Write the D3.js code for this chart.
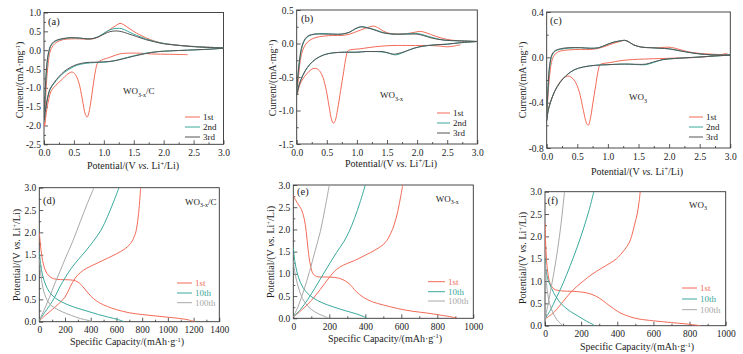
<!DOCTYPE html>
<html>
<head>
<meta charset="utf-8">
<script src="https://cdn.jsdelivr.net/npm/d3@7"></script>
<style>
body { margin: 0; background: #fff; }
svg, text, tspan { font-family: "Liberation Serif", "Times New Roman", Times, serif; }
</style>
</head>
<body>
<svg id="fig" width="743" height="354" font-family="Liberation Serif, Times New Roman, serif"></svg>
<script>
// ---- CV curves, [potential V, current mA/mg], in sweep order ----
const cvA1st = [[2.40,-0.12],[2.1,-0.11],[1.8,-0.10],[1.6,-0.08],[1.4,-0.08],[1.3,-0.09],[1.2,-0.13],[1.1,-0.19],[1.0,-0.24],[0.93,-0.29],[0.89,-0.36],[0.86,-0.55],[0.82,-0.95],[0.78,-1.40],[0.74,-1.72],[0.72,-1.78],[0.69,-1.70],[0.64,-1.30],[0.58,-0.85],[0.52,-0.64],[0.47,-0.58],[0.40,-0.63],[0.30,-0.78],[0.20,-0.93],[0.12,-1.08],[0.08,-1.30],[0.04,-1.65],[0.01,-2.02],
  [0.02,-1.6],[0.04,-0.9],[0.07,-0.35],[0.10,-0.05],[0.15,0.12],[0.22,0.22],[0.32,0.28],[0.45,0.30],[0.6,0.30],[0.72,0.29],[0.82,0.30],[0.92,0.36],[1.02,0.46],[1.12,0.57],[1.2,0.65],[1.27,0.71],[1.33,0.68],[1.42,0.58],[1.55,0.45],[1.7,0.33],[1.85,0.24],[2.0,0.18],[2.3,0.12],[2.6,0.09],[3.0,0.06]];
const cvA2nd = [[3.0,0.05],[2.7,0.02],[2.4,0.0],[2.1,-0.02],[1.9,-0.04],[1.7,-0.08],[1.5,-0.15],[1.3,-0.23],[1.15,-0.29],[1.0,-0.32],[0.85,-0.33],[0.7,-0.35],[0.55,-0.40],[0.45,-0.48],[0.35,-0.58],[0.25,-0.72],[0.17,-0.88],[0.1,-1.05],[0.05,-1.35],[0.02,-1.65],[0.0,-1.9],
  [0.02,-1.2],[0.04,-0.6],[0.07,-0.15],[0.11,0.1],[0.16,0.2],[0.22,0.26],[0.32,0.30],[0.45,0.33],[0.6,0.32],[0.72,0.30],[0.82,0.31],[0.92,0.37],[1.02,0.47],[1.12,0.55],[1.22,0.58],[1.3,0.57],[1.4,0.50],[1.55,0.39],[1.7,0.30],[1.85,0.23],[2.0,0.18],[2.3,0.12],[2.6,0.09],[3.0,0.06]];
const cvA3rd = [[3.0,0.05],[2.7,0.02],[2.4,0.0],[2.1,-0.02],[1.9,-0.04],[1.7,-0.09],[1.5,-0.16],[1.3,-0.24],[1.15,-0.29],[1.0,-0.31],[0.85,-0.32],[0.7,-0.33],[0.55,-0.38],[0.45,-0.45],[0.35,-0.55],[0.25,-0.70],[0.17,-0.86],[0.1,-1.03],[0.05,-1.35],[0.02,-1.65],[0.0,-1.85],
  [0.02,-1.1],[0.04,-0.5],[0.07,-0.1],[0.11,0.12],[0.16,0.22],[0.22,0.27],[0.32,0.31],[0.45,0.33],[0.6,0.32],[0.72,0.30],[0.82,0.31],[0.92,0.36],[1.02,0.44],[1.1,0.49],[1.2,0.51],[1.3,0.49],[1.4,0.44],[1.55,0.36],[1.7,0.28],[1.85,0.22],[2.0,0.17],[2.3,0.12],[2.6,0.08],[3.0,0.06]];

const cvB1st = [[2.72,-0.02],[2.6,-0.04],[2.5,-0.05],[2.4,-0.04],[2.2,-0.03],[1.9,-0.03],[1.6,-0.03],[1.4,-0.04],[1.2,-0.06],[1.05,-0.08],[0.92,-0.09],[0.85,-0.11],[0.82,-0.2],[0.78,-0.42],[0.73,-0.7],[0.68,-0.98],[0.64,-1.15],[0.61,-1.19],[0.58,-1.14],[0.54,-0.95],[0.48,-0.65],[0.42,-0.47],[0.36,-0.39],[0.3,-0.37],[0.24,-0.39],[0.17,-0.45],[0.1,-0.53],[0.05,-0.62],[0.01,-0.75],
  [0.03,-0.5],[0.06,-0.25],[0.1,-0.1],[0.15,-0.01],[0.22,0.05],[0.32,0.09],[0.45,0.11],[0.6,0.12],[0.75,0.12],[0.88,0.14],[1.0,0.18],[1.12,0.22],[1.22,0.25],[1.28,0.26],[1.36,0.23],[1.45,0.18],[1.55,0.15],[1.7,0.14],[1.85,0.15],[1.97,0.17],[2.06,0.18],[2.15,0.16],[2.3,0.11],[2.5,0.06],[2.7,0.04],[3.0,0.03]];
const cvB2nd = [[3.0,0.03],[2.7,0.01],[2.5,-0.01],[2.3,-0.02],[2.1,-0.04],[1.95,-0.07],[1.8,-0.12],[1.7,-0.16],[1.63,-0.17],[1.55,-0.15],[1.45,-0.13],[1.3,-0.12],[1.15,-0.12],[1.0,-0.13],[0.8,-0.13],[0.6,-0.14],[0.45,-0.17],[0.32,-0.23],[0.22,-0.31],[0.14,-0.41],[0.07,-0.54],[0.03,-0.65],[0.0,-0.75],
  [0.02,-0.5],[0.05,-0.25],[0.09,-0.05],[0.14,0.06],[0.2,0.11],[0.3,0.14],[0.45,0.15],[0.6,0.14],[0.75,0.14],[0.88,0.17],[0.98,0.22],[1.08,0.25],[1.16,0.24],[1.25,0.22],[1.35,0.19],[1.45,0.16],[1.6,0.14],[1.75,0.14],[1.9,0.15],[2.0,0.15],[2.1,0.13],[2.25,0.09],[2.45,0.05],[2.7,0.04],[3.0,0.03]];
const cvB3rd = [[3.0,0.03],[2.7,0.01],[2.5,-0.01],[2.3,-0.02],[2.1,-0.04],[1.95,-0.07],[1.8,-0.12],[1.68,-0.15],[1.6,-0.16],[1.52,-0.14],[1.42,-0.12],[1.3,-0.12],[1.15,-0.12],[1.0,-0.13],[0.8,-0.13],[0.6,-0.14],[0.45,-0.17],[0.32,-0.23],[0.22,-0.31],[0.14,-0.41],[0.07,-0.54],[0.03,-0.65],[0.0,-0.77],
  [0.02,-0.48],[0.05,-0.22],[0.09,-0.03],[0.14,0.07],[0.2,0.12],[0.3,0.14],[0.45,0.14],[0.6,0.14],[0.75,0.14],[0.88,0.17],[0.97,0.22],[1.06,0.25],[1.14,0.24],[1.23,0.22],[1.33,0.19],[1.43,0.16],[1.6,0.14],[1.75,0.14],[1.9,0.14],[2.0,0.14],[2.1,0.12],[2.25,0.08],[2.45,0.05],[2.7,0.04],[3.0,0.03]];

const cvC1st = [[2.95,0.035],[2.8,0.02],[2.5,0.0],[2.2,-0.005],[1.9,-0.01],[1.6,-0.015],[1.4,-0.02],[1.2,-0.03],[1.05,-0.045],[0.92,-0.055],[0.87,-0.065],[0.84,-0.12],[0.8,-0.25],[0.75,-0.42],[0.71,-0.55],[0.68,-0.6],[0.65,-0.58],[0.6,-0.47],[0.53,-0.3],[0.46,-0.21],[0.4,-0.175],[0.35,-0.165],[0.28,-0.18],[0.2,-0.23],[0.13,-0.3],[0.07,-0.38],[0.03,-0.45],[0.0,-0.55],
  [0.02,-0.35],[0.05,-0.15],[0.09,-0.02],[0.14,0.03],[0.22,0.055],[0.35,0.065],[0.55,0.07],[0.72,0.07],[0.85,0.08],[0.97,0.1],[1.1,0.125],[1.2,0.14],[1.27,0.15],[1.33,0.14],[1.42,0.11],[1.55,0.09],[1.7,0.085],[1.85,0.085],[1.98,0.09],[2.1,0.08],[2.3,0.05],[2.5,0.035],[2.8,0.025],[3.0,0.02]];
const cvC2nd = [[3.0,0.02],[2.7,0.01],[2.4,0.0],[2.1,-0.01],[1.9,-0.02],[1.75,-0.045],[1.62,-0.065],[1.5,-0.065],[1.35,-0.06],[1.2,-0.06],[1.0,-0.065],[0.8,-0.07],[0.6,-0.085],[0.45,-0.11],[0.32,-0.16],[0.22,-0.22],[0.13,-0.3],[0.06,-0.4],[0.02,-0.48],[0.0,-0.55],
  [0.02,-0.3],[0.05,-0.08],[0.09,0.02],[0.14,0.055],[0.22,0.07],[0.35,0.08],[0.55,0.085],[0.72,0.08],[0.85,0.085],[0.97,0.11],[1.1,0.135],[1.2,0.145],[1.27,0.15],[1.33,0.14],[1.42,0.11],[1.55,0.09],[1.7,0.085],[1.85,0.08],[2.0,0.075],[2.2,0.055],[2.5,0.03],[2.8,0.02],[3.0,0.02]];
const cvC3rd = [[3.0,0.02],[2.7,0.01],[2.4,0.0],[2.1,-0.01],[1.9,-0.02],[1.75,-0.04],[1.62,-0.06],[1.5,-0.062],[1.35,-0.06],[1.2,-0.06],[1.0,-0.065],[0.8,-0.07],[0.6,-0.085],[0.45,-0.11],[0.32,-0.16],[0.22,-0.22],[0.13,-0.3],[0.06,-0.4],[0.02,-0.48],[0.0,-0.56],
  [0.02,-0.28],[0.05,-0.06],[0.09,0.03],[0.14,0.06],[0.22,0.075],[0.35,0.085],[0.55,0.085],[0.72,0.08],[0.85,0.085],[0.97,0.11],[1.1,0.135],[1.2,0.145],[1.27,0.15],[1.33,0.14],[1.42,0.11],[1.55,0.09],[1.7,0.085],[1.85,0.08],[2.0,0.075],[2.2,0.055],[2.5,0.03],[2.8,0.02],[3.0,0.02]];

// ---- discharge / charge curves, [capacity mAh/g, potential V]; each = [discharge, charge] ----
const gcdD1st = [
  [[0,2.0],[8,1.75],[18,1.5],[35,1.25],[60,1.08],[90,0.99],[130,0.95],[200,0.94],[260,0.93],[300,0.89],[340,0.78],[380,0.64],[420,0.52],[470,0.42],[530,0.34],[600,0.27],[700,0.2],[800,0.16],[900,0.13],[1000,0.1],[1100,0.07],[1160,0.04],[1210,0.0]],
  [[0,0.02],[50,0.15],[100,0.27],[150,0.4],[200,0.55],[240,0.78],[280,0.98],[320,1.1],[370,1.2],[450,1.31],[530,1.42],[600,1.52],[660,1.62],[710,1.75],[745,1.95],[765,2.25],[778,2.6],[788,3.0]]];
const gcdD10th = [
  [[0,1.57],[10,1.3],[25,1.05],[50,0.82],[80,0.66],[120,0.54],[170,0.45],[230,0.37],[300,0.3],[380,0.23],[460,0.16],[540,0.1],[610,0.05],[660,0.0]],
  [[0,0.03],[40,0.2],[80,0.36],[120,0.55],[160,0.78],[200,0.98],[250,1.2],[300,1.38],[360,1.58],[420,1.8],[480,2.05],[530,2.35],[580,2.7],[620,3.0]]];
const gcdD100th = [
  [[0,1.4],[10,1.1],[25,0.8],[50,0.55],[80,0.4],[120,0.31],[180,0.22],[250,0.14],[320,0.07],[380,0.03],[415,0.0]],
  [[0,0.03],[40,0.28],[80,0.55],[120,0.85],[160,1.12],[200,1.4],[260,1.8],[320,2.25],[370,2.62],[425,3.0]]];

const gcdE1st = [
  [[0,2.76],[10,2.68],[25,2.58],[45,2.45],[60,2.25],[72,1.95],[82,1.55],[95,1.2],[110,1.0],[130,0.94],[170,0.93],[230,0.92],[270,0.88],[310,0.78],[350,0.6],[390,0.47],[440,0.37],[500,0.3],[580,0.22],[660,0.16],[740,0.12],[820,0.07],[880,0.03],[910,0.0]],
  [[0,0.03],[50,0.2],[100,0.4],[150,0.65],[200,0.92],[240,1.1],[280,1.2],[340,1.3],[400,1.42],[460,1.55],[510,1.7],[540,1.9],[560,2.1],[580,2.4],[597,2.75],[608,3.0]]];
const gcdE10th = [
  [[0,1.6],[8,1.3],[20,1.05],[40,0.8],[70,0.6],[110,0.46],[160,0.35],[220,0.26],[290,0.17],[350,0.1],[390,0.04],[410,0.0]],
  [[0,0.03],[40,0.2],[80,0.42],[120,0.68],[160,0.95],[200,1.22],[240,1.48],[280,1.72],[310,1.95],[340,2.25],[370,2.6],[400,3.0]]];
const gcdE100th = [
  [[0,1.3],[8,1.05],[20,0.82],[40,0.55],[65,0.35],[100,0.2],[140,0.1],[175,0.04],[200,0.0]],
  [[0,0.03],[30,0.3],[60,0.65],[90,1.05],[120,1.5],[150,1.95],[175,2.45],[200,3.0]]];

const gcdF1st = [
  [[0,2.3],[3,1.9],[8,1.5],[15,1.2],[28,0.95],[50,0.82],[90,0.78],[150,0.77],[210,0.75],[260,0.7],[300,0.62],[340,0.5],[380,0.38],[420,0.28],[470,0.2],[520,0.15],[600,0.11],[700,0.07],[780,0.04],[860,0.0]],
  [[0,0.15],[50,0.3],[92,0.5],[150,0.78],[212,1.0],[260,1.15],[310,1.28],[360,1.4],[396,1.5],[440,1.7],[465,1.85],[479,2.0],[495,2.25],[510,2.5],[520,2.75],[527,3.0]]];
const gcdF10th = [
  [[0,1.5],[5,1.25],[15,1.05],[35,0.85],[60,0.65],[95,0.47],[140,0.32],[190,0.2],[230,0.1],[260,0.04],[275,0.0]],
  [[0,0.15],[30,0.35],[60,0.6],[100,0.95],[140,1.35],[180,1.78],[215,2.2],[245,2.6],[270,3.0]]];
const gcdF100th = [
  [[0,1.4],[5,1.1],[12,0.8],[25,0.5],[45,0.28],[65,0.14],[85,0.05],[100,0.0]],
  [[0,0.15],[20,0.55],[40,0.98],[60,1.45],[80,2.0],[95,2.5],[108,3.0]]];

// ---- axis ticks / labels ----
const cvXTicks = [0, 0.5, 1.0, 1.5, 2.0, 2.5, 3.0];
const cvYTicksA = [-2.5, -2.0, -1.5, -1.0, -0.5, 0.0, 0.5, 1.0];
const cvYTicksB = [-1.5, -1.0, -0.5, 0.0, 0.5];
const cvYTicksC = [-0.8, -0.4, 0.0, 0.4];
const capXTicksD = [0, 200, 400, 600, 800, 1000, 1200, 1400];
const capXTicksEF = [0, 200, 400, 600, 800, 1000];
const potYTicks = [0, 0.5, 1.0, 1.5, 2.0, 2.5, 3.0];
const cvNames = ["1st", "2nd", "3rd"];
const gcdNames = ["1st", "10th", "100th"];

const red = "#f26b57", teal = "#3aa89c", dark = "#555555", light = "#a8a8a8";
const serif = "Liberation Serif, Times New Roman, serif";
const svg = d3.select("#fig");
const fmt1 = d => d.toFixed(1);
const fmt0 = d => String(d);

// midpoints between major ticks for minor ticks
const mids = t => t.slice(1).map((d, i) => (d + t[i]) / 2);

let clipId = 0;
const drawPanel = (p) => {
    const g = svg.append("g");
    const x = d3.scaleLinear().domain([p.xTicks[0], p.xTicks[p.xTicks.length - 1]]).range([p.left, p.right]);
    const y = d3.scaleLinear().domain([p.yTicks[0], p.yTicks[p.yTicks.length - 1]]).range([p.bottom, p.top]);

    // axes with inward ticks
    g.append("g").attr("transform", `translate(0,${p.bottom})`)
        .call(d3.axisBottom(x).tickValues(p.xTicks).tickSize(-4).tickPadding(5).tickFormat(p.xFmt));
    g.append("g").attr("transform", `translate(0,${p.bottom})`)
        .call(d3.axisBottom(x).tickValues(mids(p.xTicks)).tickSize(-2).tickFormat(""));
    g.append("g").attr("transform", `translate(${p.left},0)`)
        .call(d3.axisLeft(y).tickValues(p.yTicks).tickSize(-4).tickPadding(3).tickFormat(p.yFmt));
    g.append("g").attr("transform", `translate(${p.left},0)`)
        .call(d3.axisLeft(y).tickValues(mids(p.yTicks)).tickSize(-2).tickFormat(""));
    g.selectAll(".domain").remove();
    g.selectAll("g").attr("font-family", serif);
    g.selectAll(".tick line").attr("stroke", "#333").attr("stroke-width", 0.8);
    g.selectAll(".tick text").attr("font-size", 9.5).attr("fill", "#222");

    g.append("rect")
        .attr("x", p.left).attr("y", p.top)
        .attr("width", p.right - p.left).attr("height", p.bottom - p.top)
        .attr("fill", "none").attr("stroke", "#333").attr("stroke-width", 0.9);

    // curves
    const id = `clip${clipId++}`;
    svg.append("clipPath").attr("id", id).append("rect")
        .attr("x", p.left).attr("y", p.top)
        .attr("width", p.right - p.left).attr("height", p.bottom - p.top);
    const line = d3.line().x(d => x(d[0])).y(d => y(d[1])).curve(d3.curveCatmullRom.alpha(0.5));
    const cg = g.append("g").attr("clip-path", `url(#${id})`);
    p.series.forEach(s => {
        s.paths.forEach(path => {
            cg.append("path")
                .attr("d", line(path))
                .attr("fill", "none")
                .attr("stroke", s.color)
                .attr("stroke-width", 1);
        });
    });

    // legend
    p.series.forEach((s, i) => {
        const ly = p.legendY[i];
        g.append("line")
            .attr("x1", p.legendX[0]).attr("x2", p.legendX[1])
            .attr("y1", ly).attr("y2", ly)
            .attr("stroke", s.color).attr("stroke-width", 1);
        g.append("text")
            .attr("x", p.legendX[1] + 3).attr("y", ly + 3)
            .attr("font-size", 9)
            .attr("fill", p.colorLegend ? s.color : "#222")
            .text(s.name);
    });

    // panel letter
    g.append("text").attr("x", p.letterPos[0]).attr("y", p.letterPos[1])
        .attr("font-size", 10.5).attr("fill", "#222").text(p.letter);

    // material label
    const m = g.append("text").attr("x", p.matPos[0]).attr("y", p.matPos[1])
        .attr("font-size", 9).attr("fill", "#222");
    m.append("tspan").text("WO");
    m.append("tspan").attr("dy", 2.5).attr("font-size", 6).text(p.matSub);
    if (p.matSuffix) m.append("tspan").attr("dy", -2.5).text(p.matSuffix);

    // axis titles
    const xt = g.append("text").attr("x", p.xTitlePos[0]).attr("y", p.xTitlePos[1])
        .attr("text-anchor", "middle").attr("font-size", 10).attr("fill", "#222");
    const yt = g.append("text")
        .attr("transform", `translate(${p.yTitlePos[0]},${p.yTitlePos[1]}) rotate(-90)`)
        .attr("text-anchor", "middle").attr("font-size", 10).attr("fill", "#222");
    p.xTitle(xt);
    p.yTitle(yt);
};

const potentialTitle = (t) => {
    t.append("tspan").text("Potential/(V ");
    t.append("tspan").attr("font-style", "italic").text("vs.");
    t.append("tspan").text(" Li");
    t.append("tspan").attr("dy", -3.5).attr("font-size", 6.5).text("+");
    t.append("tspan").attr("dy", 3.5).text("/Li)");
};
const currentTitle = (t) => {
    t.append("tspan").text("Current/(mA\u00b7mg");
    t.append("tspan").attr("dy", -3.5).attr("font-size", 6.5).text("-1");
    t.append("tspan").attr("dy", 3.5).text(")");
};
const capacityTitle = (t) => {
    t.append("tspan").text("Specific Capacity/(mAh\u00b7g");
    t.append("tspan").attr("dy", -3.5).attr("font-size", 6.5).text("-1");
    t.append("tspan").attr("dy", 3.5).text(")");
};

const cvSeries = (c1, c2, c3) => [
    { name: cvNames[0], color: red, paths: [c1] },
    { name: cvNames[1], color: teal, paths: [c2] },
    { name: cvNames[2], color: dark, paths: [c3] }
];
const gcdSeries = (c1, c2, c3) => [
    { name: gcdNames[0], color: red, paths: c1 },
    { name: gcdNames[1], color: teal, paths: c2 },
    { name: gcdNames[2], color: light, paths: c3 }
];

// (a)
drawPanel({
    left: 44, right: 223.5, top: 12.5, bottom: 144.3,
    xTicks: cvXTicks, yTicks: cvYTicksA, xFmt: fmt1, yFmt: fmt1,
    series: cvSeries(cvA1st, cvA2nd, cvA3rd),
    legendX: [185, 200], legendY: [117, 127, 137], colorLegend: false,
    letter: "(a)", letterPos: [48, 25],
    matPos: [123, 94], matSub: "3-x", matSuffix: "/C",
    xTitlePos: [133, 169], yTitlePos: [23, 80],
    xTitle: potentialTitle, yTitle: currentTitle
});
// (b)
drawPanel({
    left: 296.7, right: 477.3, top: 10, bottom: 144,
    xTicks: cvXTicks, yTicks: cvYTicksB, xFmt: fmt1, yFmt: fmt1,
    series: cvSeries(cvB1st, cvB2nd, cvB3rd),
    legendX: [437, 450], legendY: [113, 123, 133], colorLegend: false,
    letter: "(b)", letterPos: [301, 22],
    matPos: [380, 98], matSub: "3-x", matSuffix: "",
    xTitlePos: [391, 166.5], yTitlePos: [276, 78],
    xTitle: potentialTitle, yTitle: currentTitle
});
// (c)
drawPanel({
    left: 546.7, right: 730.3, top: 12, bottom: 148,
    xTicks: cvXTicks, yTicks: cvYTicksC, xFmt: fmt1, yFmt: fmt1,
    series: cvSeries(cvC1st, cvC2nd, cvC3rd),
    legendX: [689, 703], legendY: [117, 127, 137], colorLegend: false,
    letter: "(c)", letterPos: [550, 24],
    matPos: [629, 100], matSub: "3", matSuffix: "",
    xTitlePos: [637, 174.5], yTitlePos: [526, 80],
    xTitle: potentialTitle, yTitle: currentTitle
});
// (d)
drawPanel({
    left: 39.3, right: 219.3, top: 187.7, bottom: 321.7,
    xTicks: capXTicksD, yTicks: potYTicks, xFmt: fmt0, yFmt: fmt1,
    series: gcdSeries(gcdD1st, gcdD10th, gcdD100th),
    legendX: [177, 192], legendY: [283, 293, 302.7], colorLegend: true,
    letter: "(d)", letterPos: [43, 203.5],
    matPos: [185, 204.5], matSub: "3-x", matSuffix: "/C",
    xTitlePos: [127, 345], yTitlePos: [20, 255],
    xTitle: capacityTitle, yTitle: potentialTitle
});
// (e)
drawPanel({
    left: 293.3, right: 473.3, top: 185, bottom: 318.3,
    xTicks: capXTicksEF, yTicks: potYTicks, xFmt: fmt0, yFmt: fmt1,
    series: gcdSeries(gcdE1st, gcdE10th, gcdE100th),
    legendX: [428, 445], legendY: [281.7, 291.7, 301], colorLegend: true,
    letter: "(e)", letterPos: [297, 194.5],
    matPos: [435.7, 201.5], matSub: "3-x", matSuffix: "",
    xTitlePos: [385, 341.5], yTitlePos: [274, 252],
    xTitle: capacityTitle, yTitle: potentialTitle
});
// (f)
drawPanel({
    left: 545, right: 725.7, top: 191.7, bottom: 325.7,
    xTicks: capXTicksEF, yTicks: potYTicks, xFmt: fmt0, yFmt: fmt1,
    series: gcdSeries(gcdF1st, gcdF10th, gcdF100th),
    legendX: [682, 697], legendY: [288, 299, 309.7], colorLegend: true,
    letter: "(f)", letterPos: [547.5, 203.5],
    matPos: [689, 207.5], matSub: "3", matSuffix: "",
    xTitlePos: [637, 350], yTitlePos: [526, 258],
    xTitle: capacityTitle, yTitle: potentialTitle
});
</script>
</body>
</html>
